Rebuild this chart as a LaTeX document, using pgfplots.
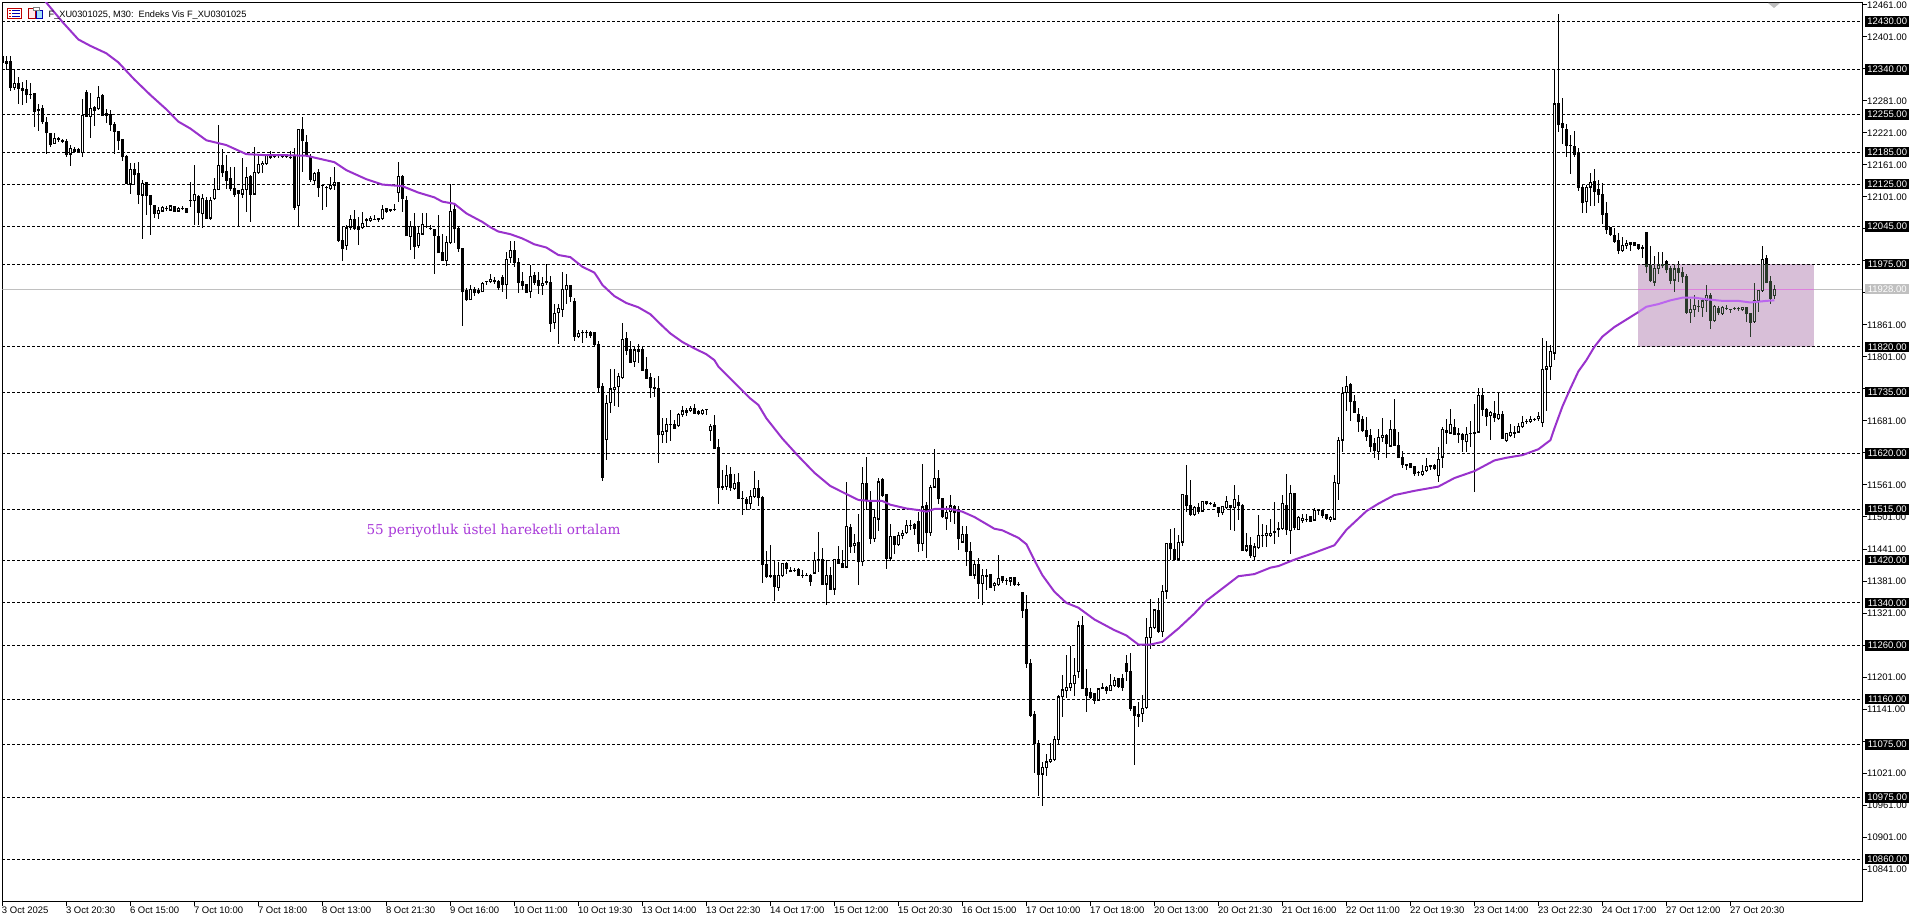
\documentclass[border=0pt]{standalone}
\usepackage{fontspec}
\setmainfont{Liberation Sans}
\newfontfamily\slabfont{DejaVu Serif}
\usepackage{pgfplots}
\usepackage{pgfplotstable}
\pgfplotsset{compat=1.18}
\definecolor{ma}{HTML}{9932CC}
\definecolor{malight}{HTML}{BB66EE}
\definecolor{rectc}{HTML}{D8BFD8}
\definecolor{rectdark}{HTML}{2A3A2A}
\definecolor{greyline}{HTML}{C0C0C0}
\definecolor{pinkline}{HTML}{DD80DD}
\definecolor{anno}{HTML}{A838D8}
\pgfplotstableread{
o h l c
12364 12364 12352 12352
12354 12364 12339 12351
12355 12364 12300 12306
12306 12340 12301 12314
12314 12325 12275 12304
12304 12317 12273 12300
12302 12320 12276 12292
12292 12314 12285 12292
12295 12295 12231 12261
12265 12275 12225 12262
12266 12273 12237 12242
12241 12251 12182 12221
12219 12221 12194 12199
12201 12220 12200 12211
12210 12214 12204 12208
12207 12209 12201 12205
12205 12209 12176 12180
12181 12198 12159 12192
12190 12194 12184 12186
12190 12192 12184 12186
12184 12284 12176 12254
12297 12302 12251 12252
12252 12296 12212 12267
12269 12272 12234 12262
12266 12309 12264 12288
12290 12294 12252 12254
12257 12265 12239 12254
12255 12264 12225 12236
12237 12242 12182 12223
12224 12225 12189 12206
12209 12209 12169 12176
12176 12179 12125 12126
12125 12164 12106 12153
12153 12164 12123 12142
12144 12166 12088 12105
12104 12132 12022 12126
12128 12129 12067 12103
12104 12104 12030 12086
12084 12086 12061 12069
12070 12082 12060 12075
12074 12084 12072 12081
12080 12084 12075 12079
12076 12086 12076 12084
12082 12084 12072 12073
12074 12082 12072 12079
12079 12084 12076 12079
12079 12079 12070 12072
12094 12129 12082 12094
12094 12161 12048 12105
12102 12104 12048 12072
12069 12107 12042 12098
12094 12101 12061 12061
12061 12100 12057 12095
12097 12136 12095 12115
12115 12235 12114 12160
12159 12190 12139 12146
12149 12179 12115 12132
12136 12157 12111 12116
12117 12157 12101 12106
12112 12114 12044 12107
12106 12173 12098 12115
12115 12157 12073 12138
12139 12142 12054 12106
12106 12194 12104 12147
12146 12179 12144 12162
12161 12169 12146 12164
12163 12179 12161 12178
12178 12186 12171 12174
12176 12182 12173 12176
12178 12182 12174 12178
12176 12181 12173 12176
12176 12182 12174 12176
12175 12186 12172 12174
12176 12192 12077 12081
12084 12229 12046 12227
12227 12250 12148 12206
12203 12217 12176 12179
12177 12181 12129 12134
12132 12148 12125 12145
12147 12154 12101 12118
12122 12124 12077 12122
12118 12122 12082 12118
12116 12139 12114 12122
12123 12157 12114 12128
12128 12128 12016 12020
12020 12045 11981 12004
12010 12048 12001 12043
12044 12067 12039 12059
12059 12077 12039 12041
12044 12064 12011 12040
12043 12073 12042 12051
12059 12062 12044 12056
12056 12066 12054 12061
12059 12067 12058 12059
12060 12061 12054 12058
12060 12086 12059 12078
12079 12081 12071 12073
12078 12079 12072 12075
12077 12087 12075 12077
12109 12166 12091 12139
12139 12142 12072 12098
12095 12102 12027 12028
12027 12056 12002 12045
12045 12070 11985 12007
12009 12045 12006 12032
12031 12070 12029 12049
12045 12070 12042 12045
12041 12048 12039 12041
12039 12040 11957 12029
12026 12067 11995 11996
11997 12032 11981 11982
11982 12027 11972 12016
12015 12125 12014 12074
12078 12090 12014 12041
12041 12045 11997 12004
12004 12004 11859 11923
11925 11930 11906 11908
11908 11936 11908 11927
11928 11932 11915 11921
11925 11930 11919 11921
11923 11941 11923 11939
11942 11944 11936 11942
11942 11956 11940 11946
11945 11951 11937 11942
11942 11945 11927 11931
11949 11954 11922 11937
11936 11997 11910 11984
11987 12019 11977 12000
12000 12019 11970 11977
11978 11986 11921 11940
11942 11961 11927 11935
11937 11937 11921 11922
11923 11974 11912 11952
11954 11960 11936 11941
11945 11961 11919 11934
11934 11950 11917 11939
11942 11976 11936 11940
11941 11952 11848 11864
11865 11901 11854 11882
11884 11901 11825 11892
11890 11960 11876 11927
11927 11956 11901 11935
11934 11936 11904 11915
11905 11911 11831 11839
11839 11851 11836 11845
11846 11851 11827 11846
11846 11852 11837 11846
11847 11850 11836 11841
11846 11848 11822 11825
11824 11831 11734 11743
11746 11753 11569 11575
11646 11729 11607 11714
11716 11779 11695 11741
11739 11778 11709 11744
11745 11771 11708 11764
11762 11864 11761 11834
11836 11848 11804 11813
11814 11830 11789 11791
11792 11821 11783 11814
11814 11826 11789 11811
11814 11820 11775 11776
11777 11800 11759 11761
11762 11770 11724 11743
11744 11762 11726 11741
11742 11765 11603 11655
11655 11687 11640 11662
11662 11686 11640 11674
11674 11701 11643 11674
11674 11682 11666 11667
11672 11695 11671 11693
11693 11709 11689 11700
11701 11706 11690 11697
11700 11709 11697 11704
11705 11712 11694 11695
11699 11702 11692 11694
11694 11704 11692 11701
11702 11703 11692 11702
11663 11675 11644 11671
11672 11693 11628 11629
11631 11648 11526 11556
11559 11590 11551 11556
11558 11598 11551 11579
11581 11594 11550 11556
11554 11582 11551 11564
11566 11584 11534 11535
11535 11550 11505 11535
11533 11538 11514 11526
11526 11551 11516 11540
11539 11587 11538 11554
11555 11571 11522 11537
11538 11541 11378 11412
11412 11438 11387 11389
11392 11448 11387 11389
11391 11420 11344 11371
11369 11416 11362 11391
11391 11415 11390 11414
11414 11416 11394 11404
11401 11407 11397 11398
11401 11405 11398 11401
11402 11405 11392 11392
11392 11402 11386 11392
11392 11396 11390 11392
11391 11395 11372 11381
11396 11435 11395 11420
11421 11472 11398 11421
11421 11442 11373 11374
11375 11420 11336 11392
11392 11407 11365 11366
11366 11421 11354 11421
11421 11446 11412 11414
11414 11439 11406 11407
11407 11566 11406 11483
11481 11487 11434 11445
11447 11470 11434 11451
11454 11507 11373 11417
11417 11594 11409 11564
11564 11614 11514 11531
11531 11550 11450 11461
11460 11514 11454 11500
11497 11575 11475 11567
11571 11575 11539 11542
11543 11543 11404 11424
11424 11487 11419 11464
11464 11465 11432 11449
11449 11473 11447 11466
11466 11476 11460 11471
11471 11496 11470 11486
11486 11496 11476 11486
11487 11490 11467 11479
11492 11511 11436 11451
11451 11601 11437 11520
11522 11530 11425 11471
11471 11561 11465 11557
11557 11629 11556 11573
11573 11589 11526 11535
11536 11537 11500 11501
11499 11522 11476 11509
11511 11542 11492 11522
11520 11524 11487 11509
11512 11521 11439 11460
11454 11484 11452 11468
11468 11484 11409 11436
11436 11454 11392 11392
11392 11420 11385 11412
11412 11424 11347 11377
11376 11404 11336 11391
11391 11404 11364 11389
11393 11394 11367 11369
11372 11379 11362 11377
11374 11429 11372 11386
11389 11391 11377 11382
11382 11386 11374 11382
11381 11387 11371 11387
11387 11389 11371 11374
11375 11379 11371 11375
11359 11359 11312 11326
11328 11354 11218 11226
11226 11234 11126 11129
11131 11137 11021 11076
11076 11084 10978 11019
11019 11042 10959 11032
11032 11057 11016 11042
11042 11077 11040 11047
11047 11090 11044 11084
11084 11167 11073 11164
11164 11204 11127 11177
11175 11242 11162 11181
11181 11259 11175 11189
11188 11236 11165 11204
11211 11307 11200 11297
11297 11316 11178 11179
11179 11217 11136 11167
11173 11181 11160 11162
11170 11170 11150 11158
11158 11181 11156 11179
11182 11189 11178 11179
11182 11184 11169 11176
11176 11206 11174 11185
11185 11202 11184 11195
11198 11200 11181 11184
11198 11207 11175 11181
11226 11242 11194 11212
11212 11247 11137 11143
11146 11146 11036 11129
11131 11154 11107 11128
11132 11168 11117 11143
11144 11312 11142 11275
11275 11347 11254 11294
11294 11328 11292 11327
11326 11350 11284 11287
11286 11374 11276 11362
11362 11453 11347 11451
11451 11478 11421 11441
11441 11481 11419 11421
11422 11467 11419 11454
11454 11544 11447 11543
11542 11598 11510 11522
11522 11571 11502 11506
11506 11521 11502 11519
11518 11527 11506 11512
11512 11531 11512 11530
11530 11530 11524 11526
11526 11529 11523 11526
11524 11530 11519 11520
11519 11520 11501 11509
11509 11522 11504 11521
11518 11540 11516 11530
11522 11523 11476 11519
11518 11561 11475 11534
11528 11542 11495 11523
11523 11526 11437 11438
11439 11471 11435 11447
11447 11464 11425 11428
11427 11452 11421 11445
11443 11504 11442 11466
11466 11487 11445 11466
11466 11486 11445 11470
11467 11498 11464 11471
11474 11529 11451 11471
11479 11492 11464 11477
11479 11542 11476 11526
11523 11582 11467 11477
11476 11561 11431 11545
11545 11545 11477 11481
11478 11502 11476 11500
11494 11506 11489 11498
11497 11507 11492 11497
11502 11502 11492 11493
11495 11517 11493 11514
11514 11515 11504 11514
11513 11514 11500 11504
11506 11507 11496 11498
11497 11502 11492 11501
11497 11579 11496 11566
11564 11650 11532 11645
11645 11744 11622 11733
11734 11765 11699 11746
11749 11752 11680 11717
11717 11730 11696 11697
11694 11705 11661 11679
11683 11690 11661 11663
11664 11688 11643 11652
11653 11665 11622 11634
11639 11649 11612 11625
11624 11665 11607 11650
11650 11686 11642 11654
11653 11657 11612 11638
11634 11683 11633 11665
11665 11722 11634 11635
11635 11660 11612 11613
11613 11625 11592 11599
11600 11600 11590 11597
11602 11603 11592 11593
11596 11596 11577 11582
11584 11588 11578 11584
11581 11598 11578 11586
11588 11611 11587 11596
11597 11598 11589 11595
11598 11600 11589 11592
11579 11632 11567 11609
11613 11669 11593 11665
11664 11684 11637 11659
11658 11703 11657 11675
11669 11684 11654 11655
11658 11667 11639 11655
11656 11659 11623 11646
11642 11669 11623 11656
11658 11681 11632 11658
11660 11713 11547 11657
11660 11743 11658 11729
11729 11742 11690 11703
11703 11705 11672 11689
11691 11699 11645 11697
11695 11719 11679 11687
11685 11735 11684 11694
11694 11700 11647 11648
11644 11659 11641 11658
11653 11675 11651 11659
11660 11672 11649 11658
11660 11677 11658 11671
11670 11690 11669 11679
11680 11685 11675 11680
11680 11690 11678 11684
11684 11687 11680 11684
11685 11697 11680 11690
11678 11836 11669 11778
11778 11831 11699 11783
11783 11824 11758 11812
11808 12339 11795 12275
12275 12444 12223 12236
12238 12286 12200 12230
12228 12238 12176 12197
12198 12217 12144 12198
12196 12224 12176 12181
12183 12193 12111 12118
12118 12123 12071 12091
12092 12123 12071 12119
12119 12146 12084 12128
12129 12153 12084 12111
12114 12132 12089 12106
12106 12126 12050 12068
12069 12091 12031 12039
12044 12045 12027 12030
12029 12042 12014 12018
12020 12034 11994 12000
12000 12025 11999 12010
12009 12020 12004 12014
12016 12016 12000 12012
12016 12016 12008 12009
12012 12012 12002 12004
12007 12011 11987 12004
12035 12035 11959 11970
11972 12009 11941 11944
11941 11990 11934 11967
11967 11998 11956 11973
11974 11997 11967 11972
11979 11982 11959 11964
11966 11971 11937 11945
11945 11976 11923 11966
11967 11981 11942 11960
11960 11970 11940 11951
11952 11956 11882 11885
11884 11909 11865 11890
11890 11917 11876 11898
11895 11907 11886 11895
11894 11912 11876 11906
11907 11936 11886 11917
11917 11920 11853 11870
11869 11899 11867 11896
11892 11896 11879 11884
11882 11896 11881 11894
11892 11898 11889 11892
11890 11891 11884 11890
11892 11895 11889 11892
11891 11894 11887 11891
11889 11895 11887 11894
11894 11895 11866 11882
11882 11884 11839 11866
11867 11939 11866 11906
11906 11927 11886 11926
11925 12009 11924 11984
11986 11992 11939 11940
11943 11952 11901 11911
11916 11936 11909 11928
}\candles
\pgfplotstableread{
i p
10 12475
11 12465
15 12429
19 12396
22 12384
26 12370
29 12353
33 12321
37 12292
41 12265
44 12242
47 12229
51 12207
56 12198
61 12181
66 12179
71 12179
76 12178
83 12166
86 12151
91 12134
95 12124
100 12121
104 12109
108 12100
110 12092
113 12088
116 12070
120 12054
122 12044
124 12036
127 12031
130 12023
133 12012
136 12006
139 11992
142 11988
145 11970
148 11959
149 11948
150 11936
153 11915
156 11902
159 11894
162 11881
165 11859
167 11845
170 11829
173 11817
176 11806
178 11795
179 11783
183 11753
187 11723
189 11711
191 11686
193 11667
195 11648
199 11615
203 11584
207 11559
211 11544
214 11533
217 11531
220 11531
222 11524
226 11517
229 11514
231 11511
233 11516
237 11516
240 11511
243 11501
248 11479
250 11476
254 11462
256 11450
258 11420
260 11392
263 11361
266 11340
269 11331
273 11309
278 11289
281 11279
284 11262
287 11262
290 11267
294 11292
298 11320
301 11344
305 11367
309 11390
313 11394
317 11406
319 11409
323 11421
328 11434
333 11448
336 11477
341 11512
344 11526
348 11542
353 11550
359 11558
363 11574
368 11587
373 11607
376 11612
380 11617
384 11628
387 11645
388 11667
390 11708
392 11742
394 11774
396 11795
398 11820
400 11839
403 11857
406 11871
409 11885
}\mamain
\pgfplotstableread{
i p
409 11885
411 11895
414 11900
417 11907
420 11912
423 11912
426 11909
430 11906
434 11906
437 11903
441 11906
443 11907
}\marect
\begin{document}
\begin{tikzpicture}[x=1pt,y=1pt]
\useasboundingbox (0,0) rectangle (1920,923);
\begin{axis}[
  anchor=south west, at={(2.3pt,21pt)},
  scale only axis, width=1859.7pt, height=899.5pt,
  xmin=0, xmax=464.9, ymin=10779.5, ymax=12465.2,
  clip mode=individual,
  axis line style={black,line width=1pt},
  tick align=outside, major tick length=4.5pt,
  tick style={black,line width=1pt},
  xtick pos=bottom, ytick pos=right,
  xtick={0,16,...,432},
  xticklabels={3 Oct 2025,3 Oct 20:30,6 Oct 15:00,7 Oct 10:00,7 Oct 18:00,8 Oct 13:00,8 Oct 21:30,9 Oct 16:00,10 Oct 11:00,10 Oct 19:30,13 Oct 14:00,13 Oct 22:30,14 Oct 17:00,15 Oct 12:00,15 Oct 20:30,16 Oct 15:00,17 Oct 10:00,17 Oct 18:00,20 Oct 13:00,20 Oct 21:30,21 Oct 16:00,22 Oct 11:00,22 Oct 19:30,23 Oct 14:00,23 Oct 22:30,24 Oct 17:00,27 Oct 12:00,27 Oct 20:30},
  xticklabel style={font=\fontsize{9.5}{10}\selectfont,anchor=north west,inner sep=0pt,xshift=-0.5pt,yshift=-0.5pt},
  ytick={12461,12401,12281,12221,12161,12101,11861,11801,11681,11561,11501,11441,11381,11321,11201,11141,11021,10961,10901,10841},
  extra y ticks={12341,12041,11981,11921,11741,11621,11261,11081},
  extra y tick labels={},
  yticklabel style={font=\fontsize{9.5}{10}\selectfont,anchor=west,inner sep=0pt,xshift=0.5pt,yshift=-0.5pt,/pgf/number format/.cd,fixed,fixed zerofill,precision=2,1000 sep={},assume math mode=true},
  scaled y ticks=false,
]
% rectangle and price line
\addplot[fill=rectc,draw=none,forget plot] coordinates {(408.9,11975) (452.9,11975) (452.9,11820) (408.9,11820)} --cycle;
\addplot[greyline,line width=1pt,forget plot] coordinates {(0,11928) (464.9,11928)};
\addplot[pinkline,line width=1pt,forget plot] coordinates {(408.9,11928) (452.9,11928)};
% horizontal levels
\pgfplotsinvokeforeach{12430,12340,12255,12185,12125,12045,11975,11820,11735,11620,11515,11420,11340,11260,11160,11075,10975,10860}{
  \addplot[black,line width=0.9pt,dash pattern=on 3pt off 2pt,forget plot] coordinates {(0,#1) (464.9,#1)};
  \node[anchor=west,fill=black,text=white,inner sep=0pt,minimum width=44pt,minimum height=10.5pt,font=\fontsize{9.5}{10}\selectfont,xshift=3pt] at (axis cs:464.9,#1) {#1.00};
}
\node[anchor=west,fill=greyline,text=white,inner sep=0pt,minimum width=44pt,minimum height=10.5pt,font=\fontsize{9.5}{10}\selectfont,xshift=3pt] at (axis cs:464.9,11928) {11928.00};
% candles: wicks
\addplot[draw=none,mark=none,forget plot,error bars/.cd,y dir=both,y explicit,error mark=none,error bar style={black,line width=1pt}]
  table[x expr=\coordindex,y=o,y error plus expr=\thisrow{h}-\thisrow{o},y error minus expr=\thisrow{o}-\thisrow{l}] {\candles};
% candles: bodies
\addplot[draw=none,mark=none,forget plot,error bars/.cd,y dir=plus,y explicit,error mark=none,error bar style={black,line width=3.4pt}]
  table[x expr=\coordindex,y expr={min(\thisrow{o},\thisrow{c})-0.9},y error plus expr={abs(\thisrow{c}-\thisrow{o})+1.8}] {\candles};
% candles: white interiors
\addplot[draw=none,mark=none,forget plot,error bars/.cd,y dir=plus,y explicit,error mark=none,error bar style={white,line width=1.4pt}]
  table[x expr=\coordindex,y expr={\thisrow{o}+1.4},y error plus expr={max(\thisrow{c}-\thisrow{o}-2.8,0)}] {\candles};
% candles inside the rectangle
\addplot[draw=none,mark=none,forget plot,restrict x to domain=409:443,error bars/.cd,y dir=plus,y explicit,error mark=none,error bar style={rectdark,line width=1pt}]
  table[x expr=\coordindex,y expr={max(\thisrow{l},11820)},y error plus expr={max(min(\thisrow{h},11975)-max(\thisrow{l},11820),0)}] {\candles};
\addplot[draw=none,mark=none,forget plot,restrict x to domain=409:443,error bars/.cd,y dir=plus,y explicit,error mark=none,error bar style={rectdark,line width=3.4pt}]
  table[x expr=\coordindex,y expr={max(min(\thisrow{o},\thisrow{c})-0.9,11820)},y error plus expr={max(min(max(\thisrow{o},\thisrow{c})+0.9,11975)-max(min(\thisrow{o},\thisrow{c})-0.9,11820),0)}] {\candles};
\addplot[draw=none,mark=none,forget plot,restrict x to domain=409:443,error bars/.cd,y dir=plus,y explicit,error mark=none,error bar style={rectc,line width=1.4pt}]
  table[x expr=\coordindex,y expr={max(\thisrow{o}+1.4,11820)},y error plus expr={max(min(\thisrow{c}-1.4,11975)-max(\thisrow{o}+1.4,11820),0)}] {\candles};
% moving average
\addplot[ma,line width=2pt,line join=round,forget plot] table[x=i,y=p] {\mamain};
\addplot[malight,line width=2pt,line join=round,forget plot] table[x=i,y=p] {\marect};
\node[anchor=west,inner sep=0pt,text=anno,font=\slabfont\fontsize{13.6}{15}\selectfont] at (axis cs:91,11476) {55 periyotluk üstel hareketli ortalam};
\end{axis}
% chart header and icons
\node[anchor=base west,inner sep=0pt,font=\fontsize{9.2}{10}\selectfont] at (48.5,905) {F\_XU0301025, M30:\ \ Endeks Vis F\_XU0301025};
\fill[gray!50] (1768,920) -- (1780,920) -- (1774,915) -- cycle;
\draw[red!75!black,line width=0.8pt,fill=white] (7.5,904.5) rectangle (21.5,914.5);
\foreach \yy in {906.5,909.5,912.5} {\draw[blue!70!black,line width=0.8pt] (12,\yy) -- (20,\yy); \draw[red!80!black,line width=0.8pt] (9,\yy) -- (11,\yy);}
\draw[red!70!black,line width=0.8pt,fill=red!8] (28.5,904.5) rectangle (35.5,914.5);
\draw[blue!70!black,line width=0.8pt,fill=cyan!35] (36.5,904.5) rectangle (42.5,912.5);
\draw[gray,line width=0.8pt,fill=white] (33,912.5) rectangle (39,915.5);
\end{tikzpicture}
\end{document}
